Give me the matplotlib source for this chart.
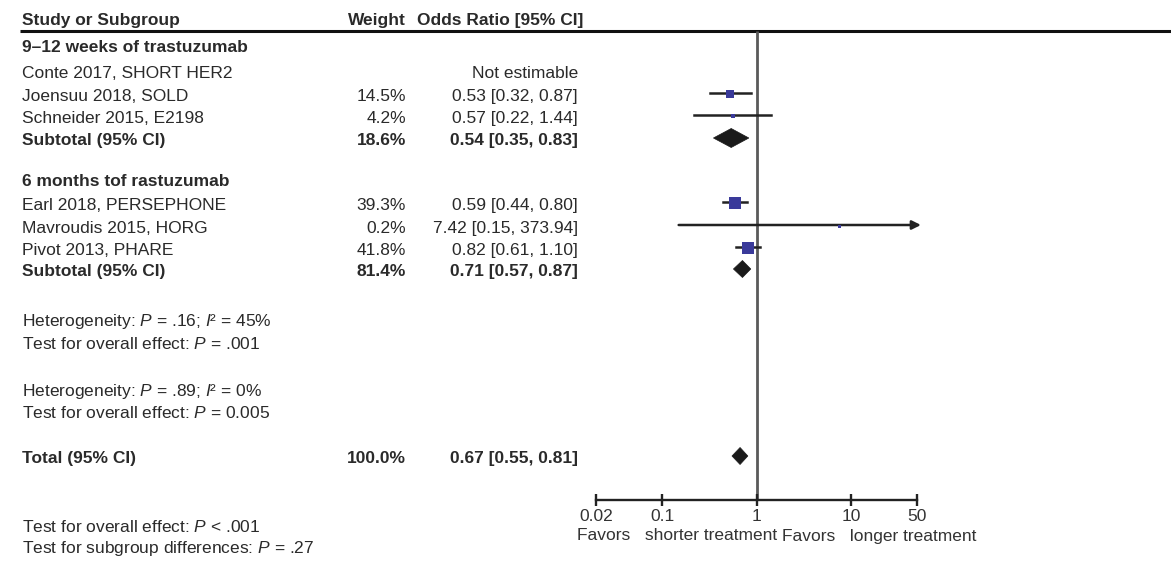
import matplotlib
matplotlib.use("Agg")
import matplotlib.pyplot as plt
from matplotlib.patches import Polygon

plt.rcParams['font.family'] = ['Liberation Sans', 'DejaVu Sans']
plt.rcParams['mathtext.fontset'] = 'custom'
plt.rcParams['mathtext.rm'] = 'Liberation Sans'
plt.rcParams['mathtext.it'] = 'Liberation Sans:italic'
plt.rcParams['mathtext.bf'] = 'Liberation Sans:bold'

# ---------------- data ----------------
group1_title = "9–12 weeks of trastuzumab"
group2_title = "6 months tof rastuzumab"

g1_studies = ["Conte 2017, SHORT HER2", "Joensuu 2018, SOLD", "Schneider 2015, E2198"]
g1_weight = [None, 14.5, 4.2]
g1_or = [None, 0.53, 0.57]
g1_lo = [None, 0.32, 0.22]
g1_hi = [None, 0.87, 1.44]
g1_sub = (18.6, 0.54, 0.35, 0.83)

g2_studies = ["Earl 2018, PERSEPHONE", "Mavroudis 2015, HORG", "Pivot 2013, PHARE"]
g2_weight = [39.3, 0.2, 41.8]
g2_or = [0.59, 7.42, 0.82]
g2_lo = [0.44, 0.15, 0.61]
g2_hi = [0.80, 373.94, 1.10]
g2_sub = (81.4, 0.71, 0.57, 0.87)

total = (100.0, 0.67, 0.55, 0.81)

het_texts = [
    "Heterogeneity: $P$ = .16; $I$² = 45%",
    "Test for overall effect: $P$ = .001",
    "Heterogeneity: $P$ = .89; $I$² = 0%",
    "Test for overall effect: $P$ = 0.005",
]
bottom_texts = [
    "Test for overall effect: $P$ < .001",
    "Test for subgroup differences: $P$ = .27",
]
xticks = [0.02, 0.1, 1, 10, 50]
xticklabels = ["0.02", "0.1", "1", "10", "50"]

# ---------------- layout ----------------
W, H = 1171, 561
fig = plt.figure(figsize=(W / 100, H / 100), dpi=100)
tax = fig.add_axes([0, 0, 1, 1])
tax.set_xlim(0, W)
tax.set_ylim(H, 0)
tax.axis('off')

FS = 12.5
TXT = '#2a2a2a'
X_LABEL = 22
X_WEIGHT = 406
X_OR = 578

AX_L, AX_R = 596, 917
fax = fig.add_axes([AX_L / W, 0, (AX_R - AX_L) / W, 1])
fax.set_xscale('log')
fax.set_xlim(0.02, 50)
fax.set_ylim(H, 0)
fax.patch.set_alpha(0)
for s in ['top', 'right', 'left']:
    fax.spines[s].set_visible(False)
fax.spines['bottom'].set_position(('data', 500))
fax.spines['bottom'].set_linewidth(1.7)
fax.spines['bottom'].set_color('#222222')
fax.set_yticks([])
fax.set_xticks(xticks)
fax.set_xticklabels(xticklabels)
fax.minorticks_off()
fax.tick_params(axis='x', direction='inout', length=9, width=1.7, color='#222222',
                labelsize=FS, labelcolor='#333333', pad=2)

# header
tax.text(X_LABEL, 20, "Study or Subgroup", fontsize=FS, fontweight='bold', color=TXT, va='center')
tax.text(X_WEIGHT, 20, "Weight", fontsize=FS, fontweight='bold', color=TXT, va='center', ha='right')
tax.text(X_OR + 5, 20, "Odds Ratio [95% CI]", fontsize=FS, fontweight='bold', color=TXT, va='center', ha='right')
tax.plot([20, W], [31, 31], color='#111111', lw=2.2, solid_capstyle='butt')

# null line
fax.plot([1, 1], [31, 500], color='#5a5a5a', lw=2.0, solid_capstyle='butt', zorder=1)

SQ = '#3a3a9a'
ARROW_END = 55


def study_row(y, name, w, o, lo, hi):
    tax.text(X_LABEL, y, name, fontsize=FS, color=TXT, va='center')
    if o is None:
        tax.text(X_OR, y, "Not estimable", fontsize=FS, color=TXT, va='center', ha='right')
        return
    tax.text(X_WEIGHT, y, f"{w:.1f}%", fontsize=FS, color=TXT, va='center', ha='right')
    tax.text(X_OR, y, f"{o:.2f} [{lo:.2f}, {hi:.2f}]", fontsize=FS, color=TXT, va='center', ha='right')
    ym = y - 3
    if hi > ARROW_END:
        fax.annotate('', xy=(ARROW_END, ym), xytext=(lo, ym), annotation_clip=False,
                     arrowprops=dict(arrowstyle='-|>', lw=1.8, color='#222222',
                                     mutation_scale=13, shrinkA=0, shrinkB=0))
    else:
        fax.plot([lo, hi], [ym, ym], color='#222222', lw=1.8, clip_on=False, zorder=2)
    side = max(3.0, 1.95 * w ** 0.5)
    fax.plot([o], [ym + 1], marker='s', ms=side * 0.72, color=SQ, mec=SQ, mew=0,
             zorder=3, clip_on=False)


def diamond_row(y, label, vals, h):
    w, o, lo, hi = vals
    tax.text(X_LABEL, y, label, fontsize=FS, fontweight='bold', color=TXT, va='center')
    tax.text(X_WEIGHT, y, f"{w:.1f}%", fontsize=FS, fontweight='bold', color=TXT, va='center', ha='right')
    tax.text(X_OR, y, f"{o:.2f} [{lo:.2f}, {hi:.2f}]", fontsize=FS, fontweight='bold', color=TXT,
             va='center', ha='right')
    ym = y - 2
    poly = Polygon([[lo, ym], [o, ym - h / 2], [hi, ym], [o, ym + h / 2]], closed=True,
                   facecolor='#1a1a1a', edgecolor='#1a1a1a', lw=0.5, zorder=3, clip_on=False)
    fax.add_patch(poly)


# group 1
tax.text(X_LABEL, 47, group1_title, fontsize=FS, fontweight='bold', color=TXT, va='center')
for y, n, w, o, lo, hi in zip([73, 96, 118], g1_studies, g1_weight, g1_or, g1_lo, g1_hi):
    study_row(y, n, w, o, lo, hi)
diamond_row(140, "Subtotal (95% CI)", g1_sub, 19)

# group 2
tax.text(X_LABEL, 181, group2_title, fontsize=FS, fontweight='bold', color=TXT, va='center')
for y, n, w, o, lo, hi in zip([205, 228, 250], g2_studies, g2_weight, g2_or, g2_lo, g2_hi):
    study_row(y, n, w, o, lo, hi)
diamond_row(271, "Subtotal (95% CI)", g2_sub, 17)

for y, t in zip([321, 344, 391, 413], het_texts):
    tax.text(X_LABEL, y, t, fontsize=FS, color=TXT, va='center')

diamond_row(458, "Total (95% CI)", total, 17)

for y, t in zip([527, 549], bottom_texts):
    tax.text(X_LABEL, y, t, fontsize=FS, color=TXT, va='center')

tax.text(777, 536, "Favors   shorter treatment", fontsize=FS, color='#333333', va='center', ha='right')
tax.text(782, 536, "Favors   longer treatment", fontsize=FS, color='#333333', va='center', ha='left')

fig.savefig("out.png", dpi=100)
